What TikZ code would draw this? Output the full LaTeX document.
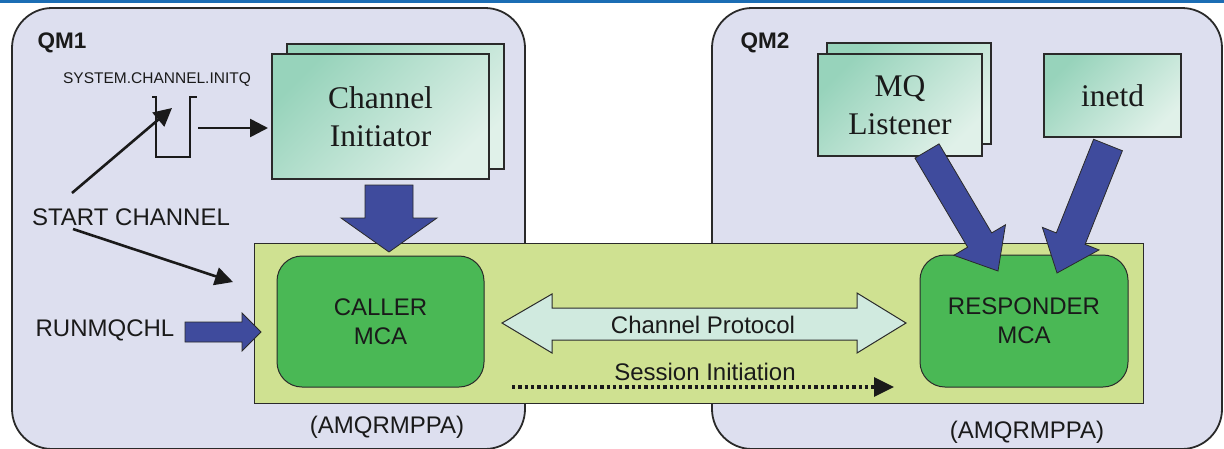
\documentclass[tikz,border=0pt]{standalone}
\usepackage{fontspec}
\setmainfont{Liberation Serif}
\setsansfont{Liberation Sans}
\usetikzlibrary{calc,arrows.meta}

\definecolor{topline}{HTML}{1B6DB4}
\definecolor{panelfill}{HTML}{DDDFEF}
\definecolor{panelline}{HTML}{2A2A2A}
\definecolor{bandfill}{HTML}{CFE191}
\definecolor{mcafill}{HTML}{4AB855}
\definecolor{mintdark}{HTML}{97D3BB}
\definecolor{mintlight}{HTML}{E0F1E9}
\definecolor{protofill}{HTML}{D0EADF}
\definecolor{bluefill}{HTML}{3F4B9D}
\definecolor{ink}{HTML}{1A1A1A}

% block arrow: name, from, to, shaft half width, head half width, head length
\newcommand\blockarrow[6]{%
  \coordinate (#1-h) at ($(#3)!#6!(#2)$);
  \filldraw[bluearrow]
    ($(#2)!#4!90:(#3)$) -- ($(#1-h)!#4!90:(#3)$) -- ($(#1-h)!#5!90:(#3)$) -- (#3)
    -- ($(#1-h)!#5!-90:(#3)$) -- ($(#1-h)!#4!-90:(#3)$) -- ($(#2)!#4!-90:(#3)$) -- cycle;
}

\begin{document}
\begin{tikzpicture}[x=1pt,y=-1pt,
  panel/.style={draw=panelline, line width=1.8pt, fill=panelfill, rounded corners=40pt,
    anchor=north west, inner sep=0, outer sep=0},
  band/.style={draw=panelline, line width=1pt, fill=bandfill, anchor=north west, inner sep=0, outer sep=0},
  mca/.style={draw=panelline, line width=1pt, fill=mcafill, rounded corners=25pt,
    anchor=north west, inner sep=0, outer sep=0, align=center, text=ink,
    font=\sffamily\fontsize{24}{29}\selectfont},
  procbox/.style={draw=panelline, line width=1.2pt, top color=mintdark, bottom color=mintlight,
    shading angle=45, anchor=north west, inner sep=0, outer sep=0, align=center, text=ink,
    font=\fontsize{31.5}{38.5}\selectfont},
  lbl/.style={font=\sffamily\fontsize{24}{29}\selectfont, text=ink, align=center, inner sep=0},
  qmlbl/.style={font=\sffamily\bfseries\fontsize{22.5}{26}\selectfont, text=ink, inner sep=0},
  qline/.style={draw=ink, line width=2.6pt},
  thinarrow/.style={draw=ink, line width=2.6pt, -{Triangle[length=18pt,width=18pt]}},
  session/.style={draw=ink, line width=3.3pt, dash pattern=on 3.3pt off 3pt,
    -{Triangle[length=20pt,width=19pt]}},
  proto/.style={draw=panelline, line width=1pt, fill=protofill},
  bluearrow/.style={draw=panelline, line width=0.8pt, fill=bluefill},
]
\useasboundingbox (0,0) rectangle (1224,448);
\fill[white] (0,0) rectangle (1224,448);
\fill[topline] (0,0) rectangle (1224,3);

% queue managers
\node[panel, minimum width=513pt, minimum height=441pt] (qm1) at (12,8) {};
\node[panel, minimum width=510pt, minimum height=441pt] (qm2) at (712,8) {};
\node[qmlbl] (qm1lbl) at (62,43) {QM1};
\node[qmlbl] (qm2lbl) at (765,43) {QM2};

% MCA process band
\node[band, minimum width=889pt, minimum height=160pt] (amq) at (254,243) {};
\node[lbl] (amq1) at (387,427) {(AMQRMPPA)};
\node[lbl] (amq2) at (1027,432) {(AMQRMPPA)};

\node[mca, minimum width=207pt, minimum height=131pt] (caller) at (277,256) {CALLER\\MCA};
\node[mca, minimum width=208pt, minimum height=132pt] (responder) at (920,255) {RESPONDER\\MCA};

% channel initiator and listeners
\node[procbox, minimum width=217pt, minimum height=125pt] (ciback) at (287,44) {};
\node[procbox, minimum width=217pt, minimum height=125pt] (ci) at (272,54) {Channel\\Initiator};
\node[procbox, minimum width=164pt, minimum height=101pt] (mqlback) at (827,43) {};
\node[procbox, minimum width=164pt, minimum height=102pt] (mql) at (818,54) {MQ\\Listener};
\node[procbox, minimum width=137pt, minimum height=83pt] (inetd) at (1044,54) {inetd};

% initiation queue
\node[font=\sffamily\fontsize{15.5}{18}\selectfont, text=ink, inner sep=0] (initq) at (157,80) {SYSTEM.CHANNEL.INITQ};
\node[minimum width=34pt, minimum height=60pt, inner sep=0, outer sep=0] (queue) at (173,127) {};
\draw[qline] ($(queue.north west)+(-4,0)$) -- (queue.north west) -- (queue.south west)
  -- (queue.south east) -- (queue.north east) -- ++(7,0);
\coordinate (q-out) at ($(queue.east)+(8,1)$);
\coordinate (ci-in) at ($(ci.west)+(-4,11.5)$);
\draw[thinarrow] (q-out) -- (ci-in);

% commands
\node[lbl] (start) at (131,217) {START CHANNEL};
\node[lbl] (runmq) at (105,330) {RUNMQCHL};
\coordinate (start-a) at (72,193);
\coordinate (q-in) at (172,108);
\coordinate (start-b) at (73,229);
\coordinate (amq-in) at (233,282);
\draw[thinarrow] (start-a) -- (q-in);
\draw[thinarrow] (start-b) -- (amq-in);

% block arrows
\coordinate (run-a) at (185,332);
\coordinate (run-b) at (261,332);
\blockarrow{run}{run-a}{run-b}{10pt}{19pt}{19pt}
\coordinate (ci-a) at (389,185);
\coordinate (ci-b) at (389,252);
\blockarrow{cid}{ci-a}{ci-b}{24pt}{48pt}{34pt}
\coordinate (mql-a) at (927,151);
\coordinate (mql-b) at (998,271);
\blockarrow{mqa}{mql-a}{mql-b}{14pt}{30pt}{36pt}
\coordinate (inetd-a) at (1108,145);
\coordinate (inetd-b) at (1057,273);
\blockarrow{ina}{inetd-a}{inetd-b}{15.5pt}{30.5pt}{37pt}

% channel protocol
\coordinate (cp-l) at ($(caller.east)+(18,1.5)$);
\coordinate (cp-r) at ($(responder.west)+(-14,2)$);
\filldraw[proto] (cp-l) -- ++(50,-29) -- ++(0,14) -- ($(cp-r)+(-49,-15)$) -- ++(0,-15)
  -- (cp-r) -- ++(-49,30) -- ++(0,-13) -- ($(cp-l)+(50,17)$) -- ++(0,13) -- cycle;
\node[lbl] (cplbl) at (703,325) {Channel Protocol};

% session initiation
\coordinate (sess-a) at (512,387);
\coordinate (sess-b) at (894,387);
\draw[session] (sess-a) -- (sess-b);
\node[lbl] (sesslbl) at (705,372) {Session Initiation};
\end{tikzpicture}
\end{document}
